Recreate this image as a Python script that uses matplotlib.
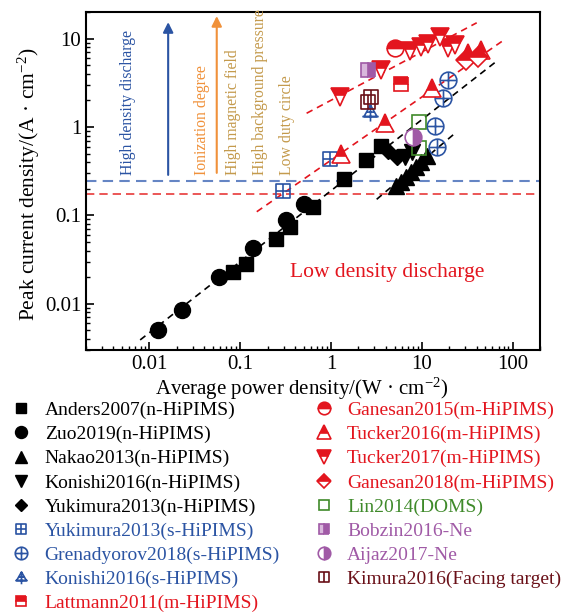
import matplotlib.pyplot as plt
import numpy as np
from matplotlib.path import Path

plt.rcParams['font.family'] = 'Liberation Serif'
plt.rcParams['mathtext.fontset'] = 'custom'
plt.rcParams['mathtext.rm'] = 'Liberation Serif'
plt.rcParams['mathtext.it'] = 'Liberation Serif:italic'

# data (W/cm2, A/cm2)
anders_x = [0.084, 0.115, 0.247, 0.353, 0.637, 1.40, 2.40, 3.55]
anders_y = [0.0231, 0.028, 0.0537, 0.0745, 0.1245, 0.256, 0.424, 0.61]
zuo_x = [0.0125, 0.0226, 0.0587, 0.139, 0.316, 0.503]
zuo_y = [0.00506, 0.0085, 0.020, 0.0431, 0.0887, 0.134]
nakao_x = [5.19, 5.89, 6.68, 7.59, 8.61, 9.77, 11.4]
nakao_y = [0.215, 0.239, 0.272, 0.31, 0.353, 0.402, 0.47]
konishi_n_x = [6.52, 7.78]
konishi_n_y = [0.458, 0.522]
yukimura_n_x = [4.23, 5.32]
yukimura_n_y = [0.536, 0.458]
yukimura_s_x = [0.295, 0.97]
yukimura_s_y = [0.189, 0.431]
grenadyorov_x = [19.4, 17.1, 13.9, 14.7]
grenadyorov_y = [3.40, 2.13, 1.03, 0.594]
konishi_s_x = [2.68]
konishi_s_y = [1.48]
lattmann_x = [5.89]
lattmann_y = [3.06]
ganesan15_x = [5.06]
ganesan15_y = [7.77]
tucker16_x = [1.28, 3.92, 12.8, 32.4, 44.8]
tucker16_y = [0.496, 1.10, 2.74, 6.87, 7.43]
tucker17_x = [1.25, 3.55, 7.39, 9.77, 11.7, 15.8, 19.4, 23.1]
tucker17_y = [2.18, 4.41, 7.24, 8.04, 8.69, 10.4, 7.83, 8.47]
ganesan18_x = [30.6, 41.5]
ganesan18_y = [5.73, 6.19]
lin_x = [9.29, 9.29]
lin_y = [1.15, 0.586]
bobzin_x = [2.55]
bobzin_y = [4.41]
aijaz_x = [7.92]
aijaz_y = [0.764]
kimura_x = [2.55, 2.75]
kimura_y = [1.92, 2.18]

# guide lines
black1_x = [0.0079, 69.3]
black1_y = [0.0039, 5.73]
black2_x = [3.18, 23.2]
black2_y = [0.152, 0.85]
red1_x = [0.538, 40.2]
red1_y = [1.43, 15.1]
red2_x = [0.152, 82.2]
red2_y = [0.110, 9.82]
blue_level = 0.245
red_level = 0.175

blue = '#2b54a3'
red = '#e3151e'
green = '#3f8a2a'
purple = '#a05aa6'
darkred = '#6a1018'
orange = '#f0913a'
tan = '#c49a4c'

# custom markers
sq = [(-1, -1), (1, -1), (1, 1), (-1, 1), (-1, -1)]
box_plus = Path(sq + [(-1, 0), (1, 0), (0, -1), (0, 1)],
                [1, 2, 2, 2, 79, 1, 2, 1, 2])
box_bar = Path(sq + [(0, -1), (0, 1)], [1, 2, 2, 2, 79, 1, 2])
circ_plus = Path.make_compound_path(Path.unit_circle(),
                                    Path([(-1, 0), (1, 0)], [1, 2]),
                                    Path([(0, -1), (0, 1)], [1, 2]))
tri_cross = Path([(0, 0.9), (-0.8, -0.5), (0.8, -0.5), (0, 0.9),
                  (0, 0.9), (0, -1.1), (-1, -0.5), (1, -0.5), (-0.5, 0.05), (0.5, 0.05)],
                 [1, 2, 2, 79, 1, 2, 1, 2, 1, 2])

fig = plt.figure(figsize=(5.83, 6.15), dpi=100)
ax = fig.add_axes([0.1475, 0.4309, 0.7787, 0.5496])

ax.axhline(blue_level, color='#6585c4', ls='--', lw=1.5, dashes=(5, 3), zorder=1)
ax.axhline(red_level, color='#e83a3a', ls='--', lw=1.2, dashes=(5, 3), zorder=1)
ax.plot(black1_x, black1_y, color='k', ls='--', lw=1.2, dashes=(4, 3), zorder=1)
ax.plot(black2_x, black2_y, color='k', ls='--', lw=1.2, dashes=(4, 3), zorder=1)
ax.plot(red1_x, red1_y, color=red, ls='--', lw=1.2, dashes=(4, 3), zorder=1)
ax.plot(red2_x, red2_y, color=red, ls='--', lw=1.2, dashes=(4, 3), zorder=1)

h = []
h += ax.plot(anders_x, anders_y, 's', color='k', ms=10, label='Anders2007(n-HiPIMS)')
h += ax.plot(zuo_x, zuo_y, 'o', color='k', ms=11.5, label='Zuo2019(n-HiPIMS)')
h += ax.plot(nakao_x, nakao_y, '^', color='k', ms=11.5, label='Nakao2013(n-HiPIMS)')
h += ax.plot(konishi_n_x, konishi_n_y, 'v', color='k', ms=11.5, label='Konishi2016(n-HiPIMS)')
h += ax.plot(yukimura_n_x, yukimura_n_y, 'D', color='k', ms=8.5, label='Yukimura2013(n-HiPIMS)')
h += ax.plot(yukimura_s_x, yukimura_s_y, ls='none', marker=box_plus, ms=10, mfc='none', mec=blue, mew=1.2,
             label='Yukimura2013(s-HiPIMS)')
h += ax.plot(grenadyorov_x, grenadyorov_y, ls='none', marker=circ_plus, ms=12, mfc='none', mec=blue, mew=1.2,
             label='Grenadyorov2018(s-HiPIMS)')
h += ax.plot(konishi_s_x, konishi_s_y, ls='none', marker=tri_cross, ms=13, mfc='none', mec=blue, mew=1.2,
             label='Konishi2016(s-HiPIMS)')
h += ax.plot(lattmann_x, lattmann_y, 's', ms=10, fillstyle='top', mfc=red, mfcalt='white', mec=red, mew=1.2,
             label='Lattmann2011(m-HiPIMS)')
h += ax.plot(ganesan15_x, ganesan15_y, 'o', ms=12, fillstyle='top', mfc=red, mfcalt='white', mec=red, mew=1.2,
             label='Ganesan2015(m-HiPIMS)')
h += ax.plot(tucker16_x, tucker16_y, '^', ms=13, fillstyle='top', mfc=red, mfcalt='white', mec=red, mew=1.2,
             label='Tucker2016(m-HiPIMS)')
h += ax.plot(tucker17_x, tucker17_y, 'v', ms=13, fillstyle='top', mfc=red, mfcalt='white', mec=red, mew=1.2,
             label='Tucker2017(m-HiPIMS)')
h += ax.plot(ganesan18_x, ganesan18_y, 'D', ms=10, fillstyle='top', mfc=red, mfcalt='white', mec=red, mew=1.2,
             label='Ganesan2018(m-HiPIMS)')
h += ax.plot(lin_x, lin_y, 's', ms=10, mfc='none', mec=green, mew=1.2, label='Lin2014(DOMS)')
h += ax.plot(bobzin_x, bobzin_y, 's', ms=10, fillstyle='right', mfc=purple, mfcalt='#d9b8dc', mec=purple,
             mew=1.2, label='Bobzin2016-Ne')
h += ax.plot(aijaz_x, aijaz_y, 'o', ms=12, fillstyle='right', mfc=purple, mfcalt='white', mec=purple,
             mew=1.2, label='Aijaz2017-Ne')
h += ax.plot(kimura_x, kimura_y, ls='none', marker=box_bar, ms=10, mfc='none', mec=darkred, mew=1.2,
             label='Kimura2016(Facing target)')

ax.set_xscale('log')
ax.set_yscale('log')
ax.set_xlim(0.002, 200)
ax.set_ylim(0.003, 20)
ax.set_xticks([0.01, 0.1, 1, 10, 100])
ax.set_xticklabels(['0.01', '0.1', '1', '10', '100'])
ax.set_yticks([0.01, 0.1, 1, 10])
ax.set_yticklabels(['0.01', '0.1', '1', '10'])
ax.tick_params(which='both', direction='in', top=False, right=False, labelsize=15)
ax.tick_params(which='major', length=6, width=1.2)
ax.tick_params(which='minor', length=3, width=1)
for s in ax.spines.values():
    s.set_linewidth(1.5)

ax.set_xlabel('Average power density/(W · cm$^{-2}$)', fontsize=15)
ax.set_ylabel('Peak current density/(A · cm$^{-2}$)', fontsize=15.5)
ax.xaxis.set_label_coords(0.474, -0.075)
ax.yaxis.set_label_coords(-0.097, 0.49)

# annotations
tkw = dict(transform=ax.transAxes, rotation=90, ha='center', va='bottom', fontsize=11.3)
ax.text(0.093, 0.518, 'High density discharge', color=blue, **tkw)
ax.text(0.255, 0.518, 'Ionization degree', color=orange, **tkw)
ax.text(0.3245, 0.518, 'High magnetic field', color=tan, **tkw)
ax.text(0.383, 0.518, 'High background pressure', color=tan, **tkw)
ax.text(0.442, 0.518, 'Low duty circle', color=tan, **tkw)
ax.annotate('', xy=(0.181, 0.97), xytext=(0.181, 0.518), xycoords='axes fraction',
            arrowprops=dict(arrowstyle='-|>', color=blue, lw=1.5, mutation_scale=15, shrinkA=0, shrinkB=0))
ax.annotate('', xy=(0.288, 0.988), xytext=(0.288, 0.524), xycoords='axes fraction',
            arrowprops=dict(arrowstyle='-|>', color=orange, lw=1.5, mutation_scale=15, shrinkA=0, shrinkB=0))
ax.text(0.449, 0.228, 'Low density discharge', color=red, fontsize=15.5, ha='left', va='center',
        transform=ax.transAxes)

label_colors = ['k'] * 5 + [blue] * 3 + [red] * 5 + [green, purple, purple, darkred]
leg = fig.legend(handles=h, ncol=2, loc='upper left', bbox_to_anchor=(0.02, 0.347), frameon=False,
                 fontsize=14, handlelength=1.0, handletextpad=0.7, columnspacing=1.75,
                 labelspacing=0.33, markerscale=0.75, borderaxespad=0, borderpad=0)
for t, c in zip(leg.get_texts(), label_colors):
    t.set_color(c)

fig.savefig('out.png', dpi=100)
